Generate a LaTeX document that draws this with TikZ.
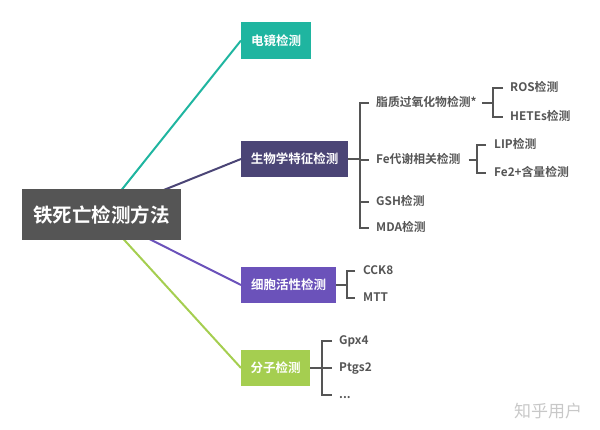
\documentclass[tikz,border=0pt]{standalone}
\usepackage{fontspec}
\setmainfont{Noto Sans CJK SC}[BoldFont={Noto Sans CJK SC Bold}]
\usetikzlibrary{backgrounds,calc}
\definecolor{rootc}{HTML}{555555}
\definecolor{tealc}{HTML}{1FB5A0}
\definecolor{navyc}{HTML}{4B4576}
\definecolor{purpc}{HTML}{6B52BA}
\definecolor{greenc}{HTML}{A5CE50}
\definecolor{leafc}{HTML}{555555}
\definecolor{wmc}{HTML}{C8C8C8}
\tikzset{
  box/.style={rectangle, inner sep=0pt, text=white, font=\bfseries\fontsize{12.5}{14}\selectfont, anchor=west, minimum height=36pt},
  leaf/.style={inner sep=0pt, anchor=west, text=leafc, font=\bfseries\fontsize{11.8}{13}\selectfont, text height=0.86em, text depth=0.14em},
  br/.style={draw=leafc, line width=1.5pt},
  main/.style={line width=2pt},
}
\begin{document}
\begin{tikzpicture}[x=1pt,y=-1pt]
\useasboundingbox (0,0) rectangle (600,430);
% root
\node[rectangle, fill=rootc, minimum width=159pt, minimum height=51pt, inner sep=0pt, text=white, font=\bfseries\fontsize{19.5}{22}\selectfont] (root) at (101.5,215) {铁死亡检测方法};
% first level
\node[box, fill=tealc, minimum width=70pt, minimum height=37pt] (b1) at (241,40.5) {电镜检测};
\node[box, fill=navyc, minimum width=107pt] (b2) at (241,159) {生物学特征检测};
\node[box, fill=purpc, minimum width=95pt] (b3) at (241,285) {细胞活性检测};
\node[box, fill=greenc, minimum width=69pt] (b4) at (241,368) {分子检测};
\begin{scope}[on background layer]
\draw[main, tealc] (root.center) -- (b1.west);
\draw[main, navyc] (root.center) -- (b2.west);
\draw[main, purpc] (root.center) -- (b3.west);
\draw[main, greenc] (root.center) -- (b4.west);
\end{scope}
% biology leaves
\node[leaf] (l1) at (376,103) {脂质过氧化物检测*};
\node[leaf] (l2) at (376,160) {Fe代谢相关检测};
\node[leaf] (l3) at (376,202) {GSH检测};
\node[leaf] (l4) at (376,228) {MDA检测};
\coordinate (j2) at (360,159);
\draw[br] (b2.east) -- (j2);
\draw[br] ([xshift=-7pt]l1.west) -| (j2) |- ([xshift=-7pt]l4.west);
\draw[br] (j2 |- l2.west) -- ([xshift=-7pt]l2.west);
\draw[br] (j2 |- l3.west) -- ([xshift=-7pt]l3.west);
% lipid peroxide
\node[leaf] (r1) at (510,88) {ROS检测};
\node[leaf] (r2) at (510,117) {HETEs检测};
\coordinate (ja) at (493,103);
\draw[br] ([xshift=5pt]l1.east) -- (ja);
\draw[br] ([xshift=-7pt]r1.west) -| (ja) |- ([xshift=-7pt]r2.west);
% Fe
\node[leaf] (f1) at (494,145) {LIP检测};
\node[leaf] (f2) at (494,173) {Fe2+含量检测};
\coordinate (jb) at (477,160);
\draw[br] ([xshift=8pt]l2.east) -- (jb);
\draw[br] ([xshift=-8pt]f1.west) -| (jb) |- ([xshift=-8pt]f2.west);
% cell viability
\node[leaf] (c1) at (363,271) {CCK8};
\node[leaf] (c2) at (363,298) {MTT};
\coordinate (j3) at (347,285);
\draw[br] (b3.east) -- (j3);
\draw[br] ([xshift=-8pt]c1.west) -| (j3) |- ([xshift=-8pt]c2.west);
% molecular
\node[leaf] (m1) at (339,341) {Gpx4};
\node[leaf] (m2) at (339,368) {Ptgs2};
\node[leaf] (m3) at (339,395) {...};
\coordinate (j4) at (322,368);
\draw[br] (b4.east) -- (j4);
\draw[br] ([xshift=-7pt]m1.west) -| (j4) |- ([xshift=-7pt]m3.west);
\draw[br] (j4) -- ([xshift=-7pt]m2.west);
% watermark
\node[text=wmc, font=\fontsize{17}{19}\selectfont, inner sep=0pt] (wm) at (548,411) {知乎用户};
\end{tikzpicture}
\end{document}
